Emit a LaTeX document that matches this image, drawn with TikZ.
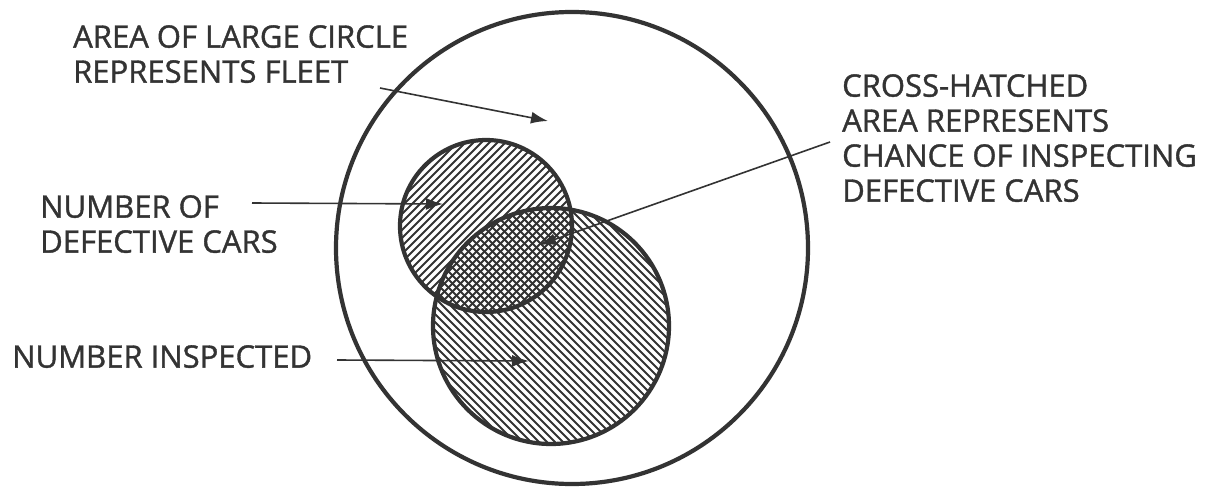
\documentclass[tikz,border=0pt]{standalone}
\usepackage{fontspec}
\setmainfont{Open Sans}
\newfontfamily\lblfont{Open Sans}[FakeBold=1.2]
\usetikzlibrary{arrows.meta}
\definecolor{ink}{HTML}{333333}
\begin{document}
\begin{tikzpicture}[x=1pt,y=-1pt,
  outline/.style={draw=ink, line width=4.2pt},
  hatch/.style={draw=ink, line width=1.9pt},
  pointer/.style={draw=ink, line width=1.6pt, -{Latex[length=17pt,width=12pt]}},
  lbl/.style={text=ink, inner sep=0pt, anchor=north west, align=left, font=\lblfont\fontsize{31}{35}\selectfont}]
\useasboundingbox[fill=white] (0,0) rectangle (1211,487);
% circles
\coordinate (F) at (572,248);
\coordinate (D) at (486,226);
\coordinate (I) at (551,326);
\draw[outline] (F) circle[radius=236pt];
\begin{scope}
  \clip (D) circle[radius=86pt];
  \foreach \i in {-17,...,17} \draw[hatch] ({486+\i*8-130},356) -- ({486+\i*8+130},96);
\end{scope}
\begin{scope}
  \clip (I) circle[radius=118pt];
  \foreach \i in {-22,...,22} \draw[hatch] ({551+\i*8-170},156) -- ({551+\i*8+170},496);
\end{scope}
\draw[outline] (D) circle[radius=86pt];
\draw[outline] (I) circle[radius=118pt];
% labels
\node[lbl] (fleet) at (73,25) {AREA OF LARGE CIRCLE\\REPRESENTS FLEET};
\node[lbl] (defect) at (40,195) {NUMBER OF\\DEFECTIVE CARS};
\node[lbl] (insp) at (12,345) {NUMBER INSPECTED};
\node[lbl] (cross) at (842,74) {CROSS-HATCHED\\AREA REPRESENTS\\CHANCE OF INSPECTING\\DEFECTIVE CARS};
% arrows
\coordinate (fleetA) at (380,88);   \coordinate (fleetT) at (548,121);
\coordinate (defA) at (252,203);    \coordinate (defT) at (443,204);
\coordinate (inspA) at (337,360);   \coordinate (inspT) at (529,361);
\coordinate (crossA) at (830,142);  \coordinate (crossT) at (539,245);
\draw[pointer] (fleetA) -- (fleetT);
\draw[pointer] (defA) -- (defT);
\draw[pointer] (inspA) -- (inspT);
\draw[pointer] (crossA) -- (crossT);
\end{tikzpicture}
\end{document}
